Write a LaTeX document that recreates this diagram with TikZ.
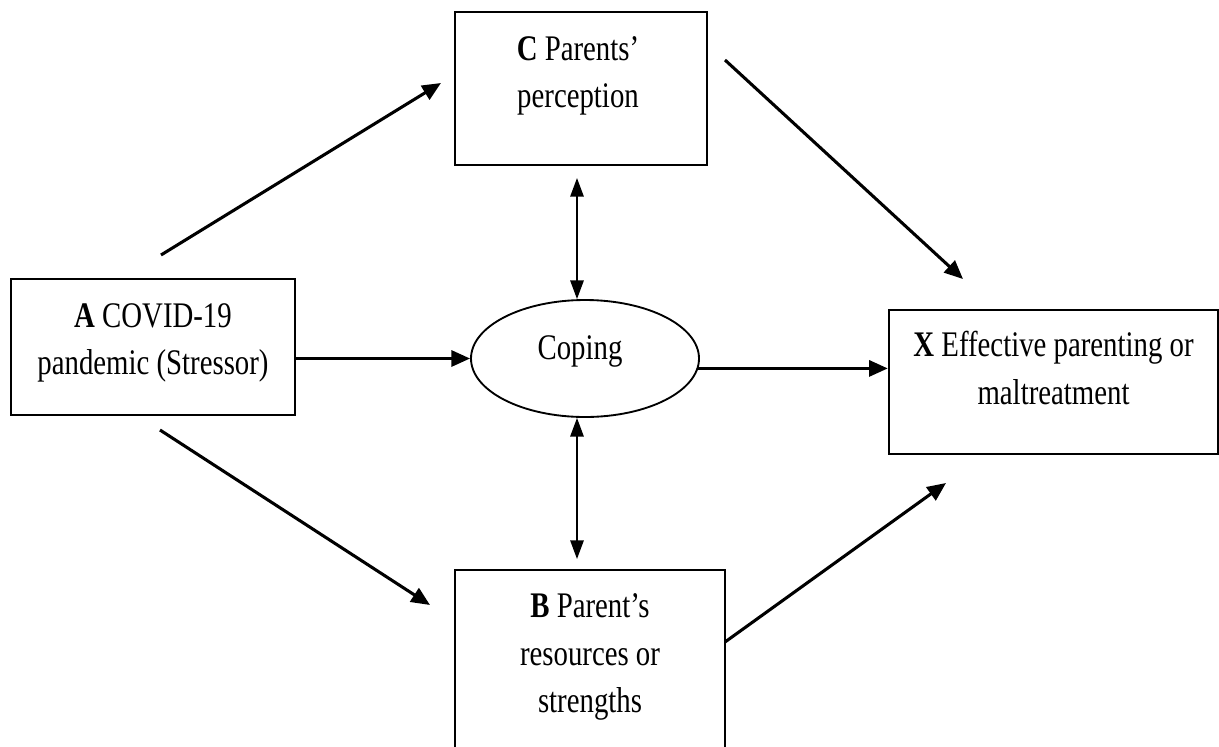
\documentclass[tikz,border=0pt]{standalone}
\usepackage{fontspec}
\setmainfont{Liberation Serif}[FakeStretch=0.80]
\usetikzlibrary{arrows.meta, shapes.geometric}

\begin{document}
\begin{tikzpicture}[x=0.75pt, y=-0.75pt,
    caja/.style={draw, line width=1.6pt, inner sep=0pt},
    texto/.style={align=center, inner sep=0pt, font=\fontsize{27pt}{35.5pt}\selectfont},
    flecha/.style={line width=2.3pt, -{Triangle[length=14pt, width=12pt]}},
    doble/.style={line width=1.4pt, {Triangle[length=14pt, width=10pt]}-{Triangle[length=14pt, width=10pt]}}]

    \useasboundingbox (0,0) rectangle (1219,746);
    \clip (0,0) rectangle (1219,746);

    % Cajas y elipse
    \node[caja, minimum width=213pt, minimum height=102pt] (A) at (153,347) {};
    \node[caja, minimum width=189pt, minimum height=115pt] (C) at (581,88.5) {};
    \node[caja, minimum width=247pt, minimum height=108pt] (X) at (1053.5,382) {};
    \node[caja, minimum width=202.5pt, minimum height=142.5pt] (B) at (590,665) {};
    \node[ellipse, draw, line width=1.4pt, minimum width=171pt, minimum height=87.75pt] (Coping) at (585,358.5) {};

    % Textos
    \node[texto] (A-texto) at (153,343) {\textbf{A} COVID-19\\pandemic (Stressor)};
    \node[texto] (C-texto) at (578,76) {\textbf{C} Parents’\\perception};
    \node[texto] (X-texto) at (1053.5,368) {\textbf{X} Effective parenting or\\maltreatment};
    \node[texto] (B-texto) at (590,657) {\textbf{B} Parent’s\\resources or\\strengths};
    \node[texto] (Coping-texto) at (580,351) {Coping};

    % Extremos libres de las flechas
    \coordinate (AC-ini) at (161,255);
    \coordinate (AC-fin) at (441,83);
    \coordinate (CX-ini) at (725,60);
    \coordinate (CX-fin) at (963,279);
    \coordinate (AB-ini) at (160,430);
    \coordinate (AB-fin) at (430,605);
    \coordinate (BX-ini) at (725,642);
    \coordinate (BX-fin) at (946,483);
    \coordinate (CC-sup) at (577,178);
    \coordinate (CB-inf) at (577,559);

    % Flechas
    \draw[flecha] (AC-ini) -- (AC-fin);
    \draw[flecha] (CX-ini) -- (CX-fin);
    \draw[flecha] (AB-ini) -- (AB-fin);
    \draw[flecha] (BX-ini) -- (BX-fin);
    \draw[flecha] (A.east |- Coping.west) -- (Coping.west);
    \draw[flecha] (Coping.-5) -- (Coping.-5 -| X.west);

    % Flechas dobles con el afrontamiento
    \draw[doble] (CC-sup) -- (CC-sup |- Coping.north);
    \draw[doble] (CB-inf |- Coping.south) -- (CB-inf);
\end{tikzpicture}
\end{document}
